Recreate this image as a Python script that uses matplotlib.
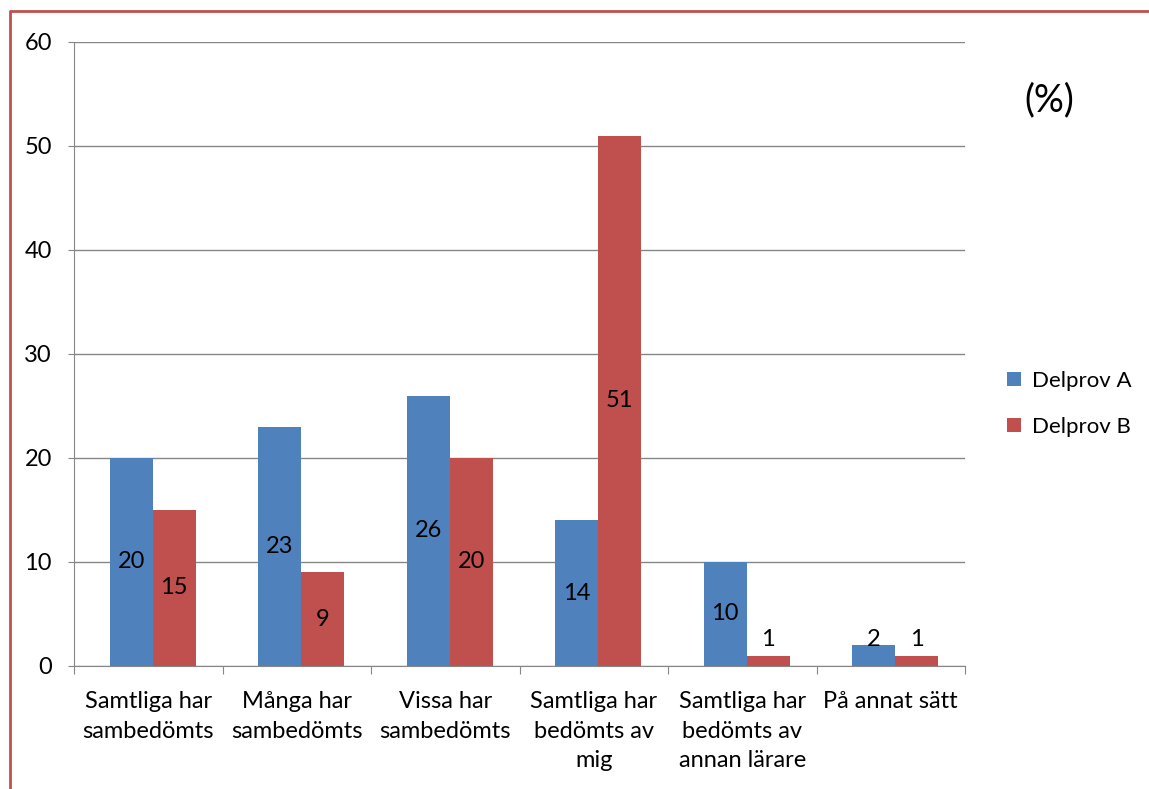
import numpy as np
import matplotlib.pyplot as plt
from matplotlib.lines import Line2D

plt.rcParams['font.family'] = ['Lato', 'DejaVu Sans']

categories = ['Samtliga har\nsambedömts', 'Många har\nsambedömts', 'Vissa har\nsambedömts',
              'Samtliga har\nbedömts av\nmig', 'Samtliga har\nbedömts av\nannan lärare', 'På annat sätt']
delprov_a = [20, 23, 26, 14, 10, 2]
delprov_b = [15, 9, 20, 51, 1, 1]
blue = '#4F81BD'
red = '#C0504D'

W, H = 1149, 789
fig = plt.figure(figsize=(W / 100, H / 100), dpi=100)
ax = fig.add_axes([74 / W, 1 - 666 / H, (965 - 74) / W, (666 - 42) / H])

x = np.arange(len(categories)) + 0.03
w = 0.29
ba = ax.bar(x - w / 2, delprov_a, w, color=blue, label='Delprov A')
bb = ax.bar(x + w / 2, delprov_b, w, color=red, label='Delprov B')

for bars, vals in ((ba, delprov_a), (bb, delprov_b)):
    for b, v in zip(bars, vals):
        ax.text(b.get_x() + b.get_width() / 2, max(v / 2, 2.5), str(v),
                ha='center', va='center', fontsize=17)

ax.set_xlim(-0.5, len(categories) - 0.5)
ax.set_ylim(0, 60)
ax.set_yticks(range(0, 61, 10))
ax.yaxis.grid(True, color='#868686', lw=1)
ax.set_axisbelow(True)
for s in ['top', 'right']:
    ax.spines[s].set_visible(False)
ax.spines['left'].set_color('#868686')
ax.spines['bottom'].set_color('#868686')
ax.set_xticks(np.arange(-0.5, len(categories), 1), minor=False)
ax.set_xticklabels([])
ax.set_xticks(np.arange(len(categories)), minor=True)
ax.set_xticklabels(categories, minor=True, fontsize=17, linespacing=1.5)
ax.tick_params(axis='x', which='minor', length=0, pad=18)
ax.tick_params(axis='x', which='major', length=6, color='#868686')
ax.tick_params(axis='y', length=4, color='#868686', labelsize=17, pad=12, direction='out')

ax.legend(loc='center left', bbox_to_anchor=(1.025, 0.42), frameon=False, fontsize=16,
          handlelength=0.6, handleheight=0.6, labelspacing=1.2, handletextpad=0.5)
fig.text(1049 / W, 1 - 100 / H, '(%)', fontsize=27, ha='center', va='center')

fig.add_artist(Line2D([10 / W, 10 / W, 1], [0, 1 - 11 / H, 1 - 11 / H],
                      transform=fig.transFigure, color=red, lw=2))

fig.savefig('out.png', dpi=100)
